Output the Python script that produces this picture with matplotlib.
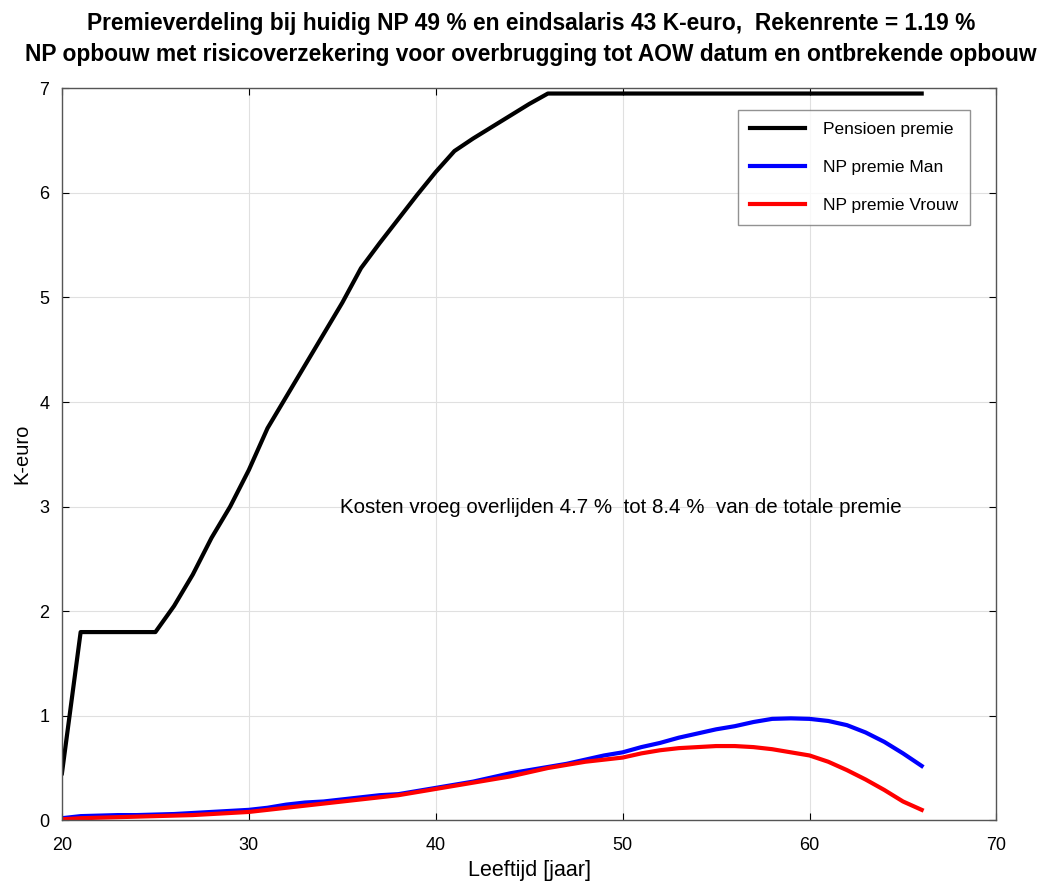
import numpy as np
import matplotlib
matplotlib.use("Agg")
import matplotlib.pyplot as plt

plt.rcParams['font.family'] = ['Liberation Sans', 'DejaVu Sans']

ages = list(range(20, 67))
pensioen = [0.45, 1.8, 1.8, 1.8, 1.8, 1.8, 2.05, 2.35, 2.7, 3.0, 3.35, 3.75, 4.05, 4.35,
            4.65, 4.95, 5.28, 5.52, 5.75, 5.98, 6.2, 6.4, 6.52, 6.63, 6.74, 6.85, 6.95,
            6.95, 6.95, 6.95, 6.95, 6.95, 6.95, 6.95, 6.95, 6.95, 6.95, 6.95, 6.95, 6.95,
            6.95, 6.95, 6.95, 6.95, 6.95, 6.95, 6.95]
np_man = [0.02, 0.04, 0.045, 0.05, 0.05, 0.055, 0.06, 0.07, 0.08, 0.09, 0.1, 0.12, 0.15,
          0.17, 0.18, 0.2, 0.22, 0.24, 0.25, 0.28, 0.31, 0.34, 0.37, 0.41, 0.45, 0.48,
          0.51, 0.54, 0.58, 0.62, 0.65, 0.7, 0.74, 0.79, 0.83, 0.87, 0.9, 0.94, 0.97,
          0.975, 0.97, 0.95, 0.91, 0.84, 0.75, 0.64, 0.52]
np_vrouw = [0.01, 0.02, 0.025, 0.03, 0.035, 0.04, 0.045, 0.05, 0.06, 0.07, 0.08, 0.1,
            0.12, 0.14, 0.16, 0.18, 0.2, 0.22, 0.24, 0.27, 0.3, 0.33, 0.36, 0.39, 0.42,
            0.46, 0.5, 0.53, 0.56, 0.58, 0.6, 0.64, 0.67, 0.69, 0.7, 0.71, 0.71, 0.7,
            0.68, 0.65, 0.62, 0.56, 0.48, 0.39, 0.29, 0.18, 0.1]
labels = ['Pensioen premie', 'NP premie Man', 'NP premie Vrouw']
xticks = [20, 30, 40, 50, 60, 70]
yticks = [0, 1, 2, 3, 4, 5, 6, 7]

fig = plt.figure(figsize=(10.5, 8.83), dpi=100)
ax = fig.add_axes([0.059, 0.071, 0.890, 0.829])

ax.plot(ages, pensioen, color='black', lw=3, label=labels[0])
ax.plot(ages, np_man, color='blue', lw=3, label=labels[1])
ax.plot(ages, np_vrouw, color='red', lw=3, label=labels[2])

ax.set_xlim(20, 70)
ax.set_ylim(0, 7)
ax.set_xticks(xticks)
ax.set_yticks(yticks)
ax.grid(True, color='#e0e0e0', lw=0.8)
ax.tick_params(direction='in', labelsize=13, length=5, top=True, right=True,
               labeltop=False, labelright=False)
ax.tick_params(axis='x', pad=12)
ax.tick_params(axis='y', pad=9)
for s in ax.spines.values():
    s.set_color('#555555')
    s.set_linewidth(1.0)

ax.set_xlabel('Leeftijd [jaar]', fontsize=15.5, labelpad=4)
ax.set_ylabel('K-euro', fontsize=14.5, labelpad=6)
fig.text(0.506, 0.973, 'Premieverdeling bij huidig NP 49 % en eindsalaris 43 K-euro,  Rekenrente = 1.19 %',
         fontsize=16.4, fontweight='bold', ha='center', va='center')
fig.text(0.506, 0.938, 'NP opbouw met risicoverzekering voor overbrugging tot AOW datum en ontbrekende opbouw',
         fontsize=16.4, fontweight='bold', ha='center', va='center')

ax.text(34.9, 2.99, 'Kosten vroeg overlijden 4.7 %  tot 8.4 %  van de totale premie',
        fontsize=14.8, va='center', ha='left')

leg = ax.legend(loc='upper right', bbox_to_anchor=(0.981, 0.982), fontsize=12.5,
                frameon=True, fancybox=False, edgecolor='#777777',
                borderpad=0.7, labelspacing=1.3, handlelength=3.2, handletextpad=1.0)
leg.get_frame().set_linewidth(1.0)

fig.savefig('out.png', dpi=100)
